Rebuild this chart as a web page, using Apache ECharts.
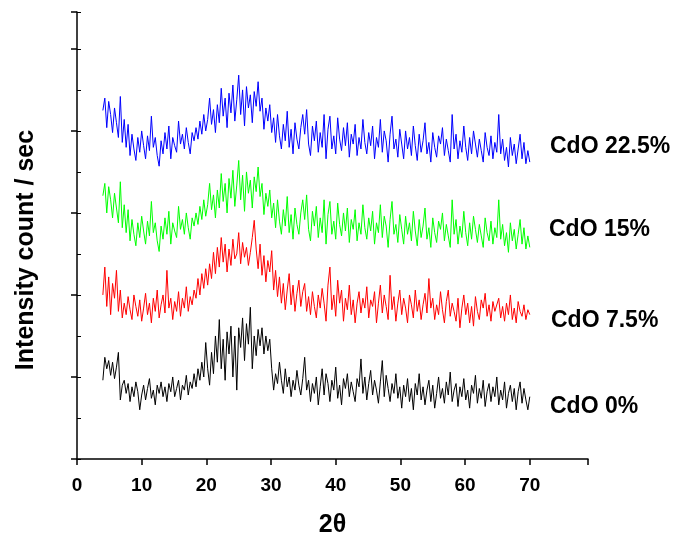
<!DOCTYPE html>
<html>
<head>
<meta charset="utf-8">
<title>XRD patterns of CdO-doped samples</title>
<script src="https://cdn.jsdelivr.net/npm/echarts@6/dist/echarts.min.js"></script>
<style>
  html, body { margin: 0; padding: 0; background: #fff; }
  #chart { width: 691px; height: 540px; }
</style>
</head>
<body>
<div id="chart"></div>
<script>
// Scan grid (degrees 2θ)
const scanStart = 4.0;
const scanStep = 0.3;

// Sample names, drawn next to each trace
const sampleNames = ['CdO 0%', 'CdO 7.5%', 'CdO 15%', 'CdO 22.5%'];
const sampleColors = ['#000000', '#ff0000', '#00ff00', '#0000ff'];

// X tick values
const xTicks = [0, 10, 20, 30, 40, 50, 60, 70];

// Intensity traces (stacked offsets, count / sec), one value per scan step
const cdo0 = [
  96,124,110,120,102,118,98,112,130,72,90,
  96,80,92,70,88,76,94,82,60,78, 90,72,86,98,74,84,66,90,80,94, 76,88,70,92,82,100,76,86,96,72, 90,84,102,78,94,86,104,
  88,110,96,118,100,142,
  110,90,130,104,150,118,170,110,146,96, 155,128,162,100,150,84,160,136,172,120, 165,140,185,110,150,126,158,138,160,128, 150,132,146,110,
  84,104,92,118,96,80,110,88,100,76,96,84,108,90,78,98,
  124,84,96,70,92,80,100,66,88,110, 78,104,92,70,96,84,112,74,90,66, 98,86,104,76,94,82,70,98,88,122, 80,100,72,92,108,78,96,84,68,94, 120,76,102,86,70,92,80,104,74,88,
  62,90,76,98,70,86,60,92,78,104, 72,88,66,84,96,70,90,62,80,100, 74,86,68,94,78,106,70,84,92,64, 88,76,98,72,84,62,90,80,102,68, 86,74,96,64,82,92,70,88,76,100, 66,84,72,94,62,80,90,70,86,60, 82,94,68,86,72,60,76
];

const cdo75 = [
  200,234,186,222,176,214,196,230,180,206,172,
  190,176,198,182,170,200,186,174,194,168, 184,202,176,190,166,196,180,206,172,188, 200,178,230,184,196,170,192,180,204,174, 196,184,210,180,198,188,206,
  196,220,200,226,208,232,
  212,238,220,252,226,258,234,270,240,262, 228,256,236,268,244,250,276,238,264,246, 258,236,252,270,291,256,232,262,224,248, 216,242,228,254,
  206,230,198,222,190,214,182,206,226,188,212,180,202,218,186,204,
  214,180,198,176,204,186,172,200,184,208, 190,168,212,234,182,200,174,218,190,206, 168,196,182,212,176,194,166,190,204,178, 196,184,210,172,194,186,204,166,190,212, 178,200,186,170,224,182,198,168,190,206,
  176,196,184,166,200,188,172,206,180,194, 170,188,202,178,220,184,196,170,188,176, 204,182,166,192,206,174,190,180,168,196, 160,184,200,176,190,166,186,162,198,180, 170,194,184,202,174,188,168,192,180,178, 196,172,186,168,190,176,200,170,184,166, 192,180,174,188,170,182,176
];

const cdo15 = [
  321,336,300,332,316,294,324,306,288,338,282,
  310,276,304,266,292,274,260,288,270,296, 278,262,290,272,314,276,288,266,253,284, 268,294,274,302,262,288,278,270,308,280, 292,274,300,282,268,294,284,
  300,286,308,292,316,296,
  310,336,304,322,294,328,306,348,314,336, 300,342,318,352,308,334,364,316,346,302, 350,324,340,306,344,326,356,320,336,298, 324,308,328,294,
  312,282,316,290,274,304,284,320,276,298,268,306,286,274,300,316,
  292,322,280,266,302,284,308,270,294,276, 316,262,298,314,274,290,268,312,286,272, 300,278,306,264,292,280,304,266,288,274, 310,282,268,294,278,302,262,288,276,310, 270,296,284,258,292,314,274,286,264,298,
  280,262,296,274,288,266,302,278,260,292, 270,284,306,268,282,258,294,276,264,290, 280,300,266,286,272,258,316,274,292,262, 284,270,302,276,260,288,268,296,280,264, 286,272,258,294,276,266,290,262,282,270, 316,268,286,260,276,252,288,266,280,256, 274,292,262,282,256,272,258
];

const cdo225 = [
  425,440,404,436,420,398,428,410,392,442,386,
  414,380,408,370,396,378,364,392,374,400, 382,366,394,376,418,380,392,370,357,388, 372,398,378,406,366,392,382,374,412,384, 396,378,404,386,372,398,388,
  404,390,412,396,420,400,
  414,440,408,426,398,432,410,452,418,440, 404,446,422,456,412,438,468,420,450,406, 454,428,444,410,448,430,460,424,440,402, 428,412,432,398,
  416,386,420,394,378,408,388,424,380,402,372,410,390,378,404,420,
  396,426,384,370,406,388,412,374,398,380, 420,366,402,418,378,394,372,416,390,376, 404,382,410,368,396,384,408,370,392,378, 414,386,372,398,382,406,366,392,380,414, 374,400,388,362,396,418,378,390,368,402,
  384,366,400,378,392,370,406,382,364,396, 374,388,410,372,386,362,398,380,368,394, 384,404,370,390,376,362,420,378,396,366, 388,374,406,380,364,392,372,400,384,368, 390,376,362,398,380,370,394,366,386,374, 420,372,390,364,380,356,392,370,384,360, 378,396,366,386,360,376,362
];

const traces = [cdo0, cdo75, cdo15, cdo225];

function toPairs(values) {
  return values.map((v, i) => [+(scanStart + i * scanStep).toFixed(2), v]);
}

const FONT = '"Liberation Sans", Arial, sans-serif';

const chart = echarts.init(document.getElementById('chart'), null, { renderer: 'canvas' });

// label anchor positions for each trace name (left x, centre y)
const labelPos = [[550, 407], [551, 321], [549, 230], [550, 147]];

chart.setOption({
  animation: false,
  backgroundColor: '#ffffff',
  grid: { left: 77, top: 12, width: 511, height: 447, containLabel: false, outerBoundsMode: 'none' },
  xAxis: {
    type: 'value',
    min: 0,
    max: 79,
    interval: 10,
    name: '2θ',
    nameLocation: 'middle',
    nameGap: 54,
    nameTextStyle: { fontFamily: FONT, fontWeight: 'bold', fontSize: 25, color: '#000' },
    axisLine: { show: true, onZero: false, lineStyle: { color: '#000', width: 1.5 } },
    axisTick: { show: true, inside: false, length: 6, lineStyle: { color: '#000', width: 1.5 } },
    axisLabel: {
      show: true,
      margin: 17,
      fontFamily: FONT, fontWeight: 'bold', fontSize: 19, color: '#000',
      formatter: v => (xTicks.indexOf(v) >= 0 ? String(v) : '')
    },
    splitLine: { show: false }
  },
  yAxis: [
    {
      type: 'value',
      min: 0,
      max: 545,
      interval: 100,
      axisLine: { show: true, onZero: false, lineStyle: { color: '#000', width: 1.5 } },
      axisTick: { show: true, inside: false, length: 6, lineStyle: { color: '#000', width: 1.5 } },
      axisLabel: { show: false },
      splitLine: { show: false }
    },
    {
      type: 'value',
      min: 0,
      max: 545,
      interval: 50,
      position: 'left',
      axisLine: { show: false },
      axisTick: { show: true, inside: true, length: 4, lineStyle: { color: '#000', width: 1 } },
      axisLabel: { show: false },
      splitLine: { show: false }
    }
  ],
  series: traces.map((vals, k) => ({
    name: sampleNames[k],
    type: 'line',
    data: toPairs(vals),
    showSymbol: false,
    symbol: 'none',
    lineStyle: { color: sampleColors[k], width: 1 },
    z: 2 + k
  })),
  graphic: [
    {
      type: 'text',
      x: 26,
      y: 250,
      rotation: Math.PI / 2,
      style: {
        text: 'Intensity count / sec',
        fontFamily: FONT, fontWeight: 'bold', fontSize: 25, fill: '#000',
        align: 'center', verticalAlign: 'middle'
      }
    }
  ].concat(sampleNames.map((name, k) => ({
    type: 'text',
    x: labelPos[k][0],
    y: labelPos[k][1],
    style: {
      text: name,
      fontFamily: FONT, fontWeight: 'bold', fontSize: 23, fill: '#000',
      align: 'left', verticalAlign: 'middle'
    }
  })))
});
</script>
</body>
</html>
